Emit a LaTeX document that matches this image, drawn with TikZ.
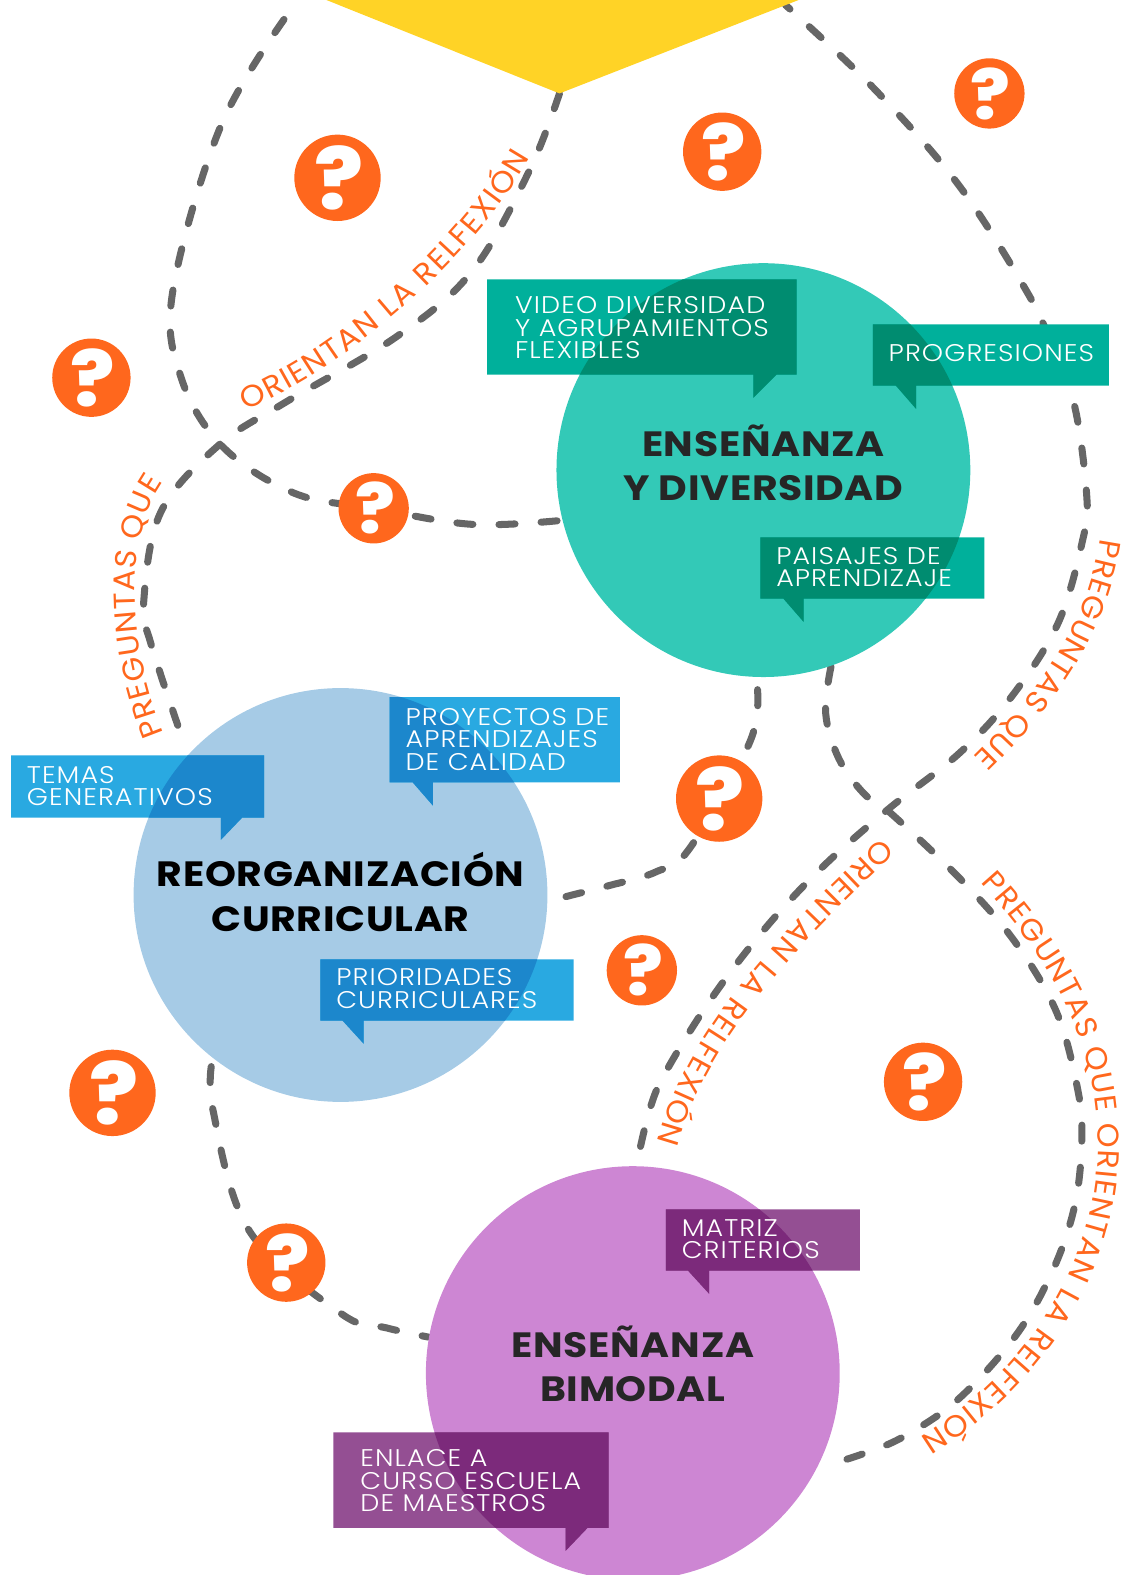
\documentclass[tikz,border=0pt]{standalone}
\usepackage{fontspec}
\usetikzlibrary{decorations.text}
\setmainfont{Poppins}
\newfontfamily\lightf{Poppins Light}[FakeStretch=1.12,LetterSpace=4.5]
\newfontfamily\titlef{Poppins Bold}[FakeStretch=1.12,LetterSpace=2]
\newfontfamily\orangef{Poppins}[FakeStretch=1.05]
\newfontfamily\qmarkf{Poppins ExtraBold}[FakeStretch=1.08]
\definecolor{dashgrey}{HTML}{666666}
\definecolor{qorange}{HTML}{FF671D}
\definecolor{sunyellow}{HTML}{FFD326}
\definecolor{tealc}{HTML}{33C9B7}
\definecolor{teall}{HTML}{00B09B}
\definecolor{teald}{HTML}{008C70}
\definecolor{bluec}{HTML}{A6CBE6}
\definecolor{bluel}{HTML}{29A9E1}
\definecolor{blued}{HTML}{1C87CC}
\definecolor{purpc}{HTML}{CD86D3}
\definecolor{purpl}{HTML}{944F93}
\definecolor{purpd}{HTML}{7C2A7B}
\def\otfont{\orangef\fontsize{7.5}{7.5}\selectfont\color{qorange}}
\newcommand{\bubbleshape}[4]{%
  \begin{scope}
    \fill[#3] #1;
    \clip (#2) circle (206);
    \fill[#4] #1;
  \end{scope}}
\tikzset{
  dashline/.style={draw=dashgrey,line width=1.75pt,line cap=round,dash pattern=on 4pt off 6.5pt},
  bigcircle/.style={circle,minimum size=103pt,inner sep=0pt},
  qbase/.style={circle,fill=qorange,inner sep=0pt,text=white,execute at begin node=\kern0.6pt},
  qL/.style={qbase,minimum size=21.5pt,font=\qmarkf\fontsize{21}{21}\selectfont},
  qM/.style={qbase,minimum size=19.5pt,font=\qmarkf\fontsize{19}{19}\selectfont},
  qS/.style={qbase,minimum size=17.5pt,font=\qmarkf\fontsize{17}{17}\selectfont},
  boxtext/.style={text=white,inner sep=0pt,anchor=base west,align=left,font=\lightf\fontsize{6}{5.625}\selectfont},
  titletext/.style={inner sep=0pt,anchor=base,align=center,text=#1,font=\titlef\fontsize{8.75}{11}\selectfont},
  otext/.style={decorate,decoration={text along path,text align=fit to path,text={|\otfont|#1}}}
}
\begin{document}
\begin{tikzpicture}[x=0.25pt,y=-0.25pt]
\useasboundingbox (0,0) rectangle (1120,1568);
\clip (0,0) rectangle (1120,1568);
\coordinate (ctr1) at (760,468);
\coordinate (ctr2) at (339,891);
\coordinate (ctr3) at (630,1367);
\coordinate (ytip) at (557,93);
\coordinate (topA) at (288,12);
\coordinate (topC) at (782,5);
\coordinate (hidC) at (1047,345);
\coordinate (endE) at (832,1456);
\node[bigcircle] (teal) at (ctr1) {};
\node[bigcircle] (blue) at (ctr2) {};
\node[bigcircle] (purple) at (ctr3) {};
% dashed connectors
\draw[dashline,dash phase=8.25pt] plot[smooth,tension=0.6] coordinates {(topA) (220,125) (172,290) (180,375) (221,444) (293,491) (372,506) (470,522) (teal.194)};
\draw[dashline] plot[smooth,tension=0.6] coordinates {(ytip) (527,170) (470,270) (395,335) (285,400) (218,443) (160,510) (143,600) (150,640) (178,725)};
\draw[dashline,dash phase=2.5pt] plot[smooth,tension=0.6] coordinates {(topC) (870,88) (955,185) (1025,295) (hidC)};
\draw[dashline,dash phase=5pt] plot[smooth,tension=0.6] coordinates {(hidC) (1070,405) (1082,495) (1078,537) (1054,619) (1009,691) (956,749) (885,805) (819,863) (762,924) (709,993) (664,1065) (647,1104) (purple.89)};
\draw[dashline,dash phase=7.5pt] plot[smooth,tension=0.6] coordinates {(teal.268) (748,735) (687,844) (653,868) (605,882) (562,893) (blue.-2)};
\draw[dashline] plot[smooth,tension=0.6] coordinates {(teal.289) (822,710) (835,755) (860,790) (885,808) (955,874) (1010,937) (1052,1008) (1073,1085) (1077,1135) (1070,1200) (1048,1265) (1011,1330) (954,1393) (900,1430) (860,1447) (endE)};
\draw[dashline,dash phase=8.5pt] plot[smooth,tension=0.6] coordinates {(blue.232) (212,1105) (248,1225) (340,1308) (385,1322) (purple.170)};
% yellow
\fill[sunyellow] (325,0) -- (ytip) -- (795,0) -- cycle;
% circles
\fill[tealc] (ctr1) circle (206);
\fill[bluec] (ctr2) circle (206);
\fill[purpc] (ctr3) circle (206);
% bubbles
\bubbleshape{(485,278) -- (793,278) -- (793,373) -- (773,373) -- (750,396) -- (750,373) -- (485,373) -- cycle}{ctr1}{teall}{teald}
\bubbleshape{(869,323) -- (1104,323) -- (1104,384) -- (912,384) -- (912,407) -- (892,384) -- (869,384) -- cycle}{ctr1}{teall}{teald}
\bubbleshape{(757,535) -- (980,535) -- (980,596) -- (800,596) -- (800,619) -- (780,596) -- (757,596) -- cycle}{ctr1}{teall}{teald}
\bubbleshape{(388,694) -- (617,694) -- (617,779) -- (431,779) -- (431,802) -- (411,779) -- (388,779) -- cycle}{ctr2}{bluel}{blued}
\bubbleshape{(11,752) -- (263,752) -- (263,814) -- (241,814) -- (220,836) -- (220,814) -- (11,814) -- cycle}{ctr2}{bluel}{blued}
\bubbleshape{(319,955) -- (571,955) -- (571,1016) -- (362,1016) -- (362,1039) -- (341,1016) -- (319,1016) -- cycle}{ctr2}{bluel}{blued}
\bubbleshape{(663,1204) -- (856,1204) -- (856,1265) -- (706,1265) -- (706,1288) -- (685,1265) -- (663,1265) -- cycle}{ctr3}{purpl}{purpd}
\bubbleshape{(332,1426) -- (606,1426) -- (606,1521) -- (585,1521) -- (563,1544) -- (563,1521) -- (332,1521) -- cycle}{ctr3}{purpl}{purpd}
% bubble text
\node[boxtext] (tb1) at (512,357) {VIDEO DIVERSIDAD\\Y AGRUPAMIENTOS\\FLEXIBLES};
\node[boxtext] (tb2) at (884,360) {PROGRESIONES};
\node[boxtext] (tb3) at (772,584) {PAISAJES DE\\APRENDIZAJE};
\node[boxtext] (tb4) at (403,767) {PROYECTOS DE\\APRENDIZAJES\\DE CALIDAD};
\node[boxtext] (tb5) at (26,802) {TEMAS\\GENERATIVOS};
\node[boxtext] (tb6) at (334,1004) {PRIORIDADES\\CURRICULARES};
\node[boxtext] (tb7) at (678,1253) {MATRIZ\\CRITERIOS};
\node[boxtext] (tb8) at (358,1505) {ENLACE A\\CURSO ESCUELA\\DE MAESTROS};
% titles
\node[titletext=black!85] (t1) at (760,498) {ENSEÑANZA\\Y DIVERSIDAD};
\node[titletext=black] (t2) at (339,927) {REORGANIZACIÓN\\CURRICULAR};
\node[titletext=black!85] (t3) at (630,1395) {ENSEÑANZA\\BIMODAL};
% question marks
\node[qL] (q1) at (336,177) {?};
\node[qM] (q2) at (91,376) {?};
\node[qM] (q3) at (719,151) {?};
\node[qS] (q4) at (985,93) {?};
\node[qS] (q5) at (372,506) {?};
\node[qL] (q6) at (716,795) {?};
\node[qS] (q7) at (639,966) {?};
\node[qL] (q8) at (112,1088) {?};
\node[qM] (q9) at (919,1077) {?};
\node[qM] (q10) at (285,1257) {?};
% curved labels
\path[otext={ORIENTAN LA RELFEXIÓN}] (244,408) .. controls (340,370) and (470,260) .. (528,157);
\path[otext={PREGUNTAS QUE}] (163,730) .. controls (130,650) and (120,540) .. (163,480);
\path[otext={PREGUNTAS QUE}] (1095,536) .. controls (1085,610) and (1045,680) .. (969,754);
\path[otext={ORIENTAN LA RELFEXIÓN}] (878,834) .. controls (790,915) and (685,1020) .. (654,1137);
\path[otext={PREGUNTAS QUE ORIENTAN LA RELFEXIÓN}] (976,879) .. controls (1040,950) and (1093,1030) .. (1093,1140) .. controls (1093,1250) and (1030,1360) .. (916,1431);
\end{tikzpicture}
\end{document}
